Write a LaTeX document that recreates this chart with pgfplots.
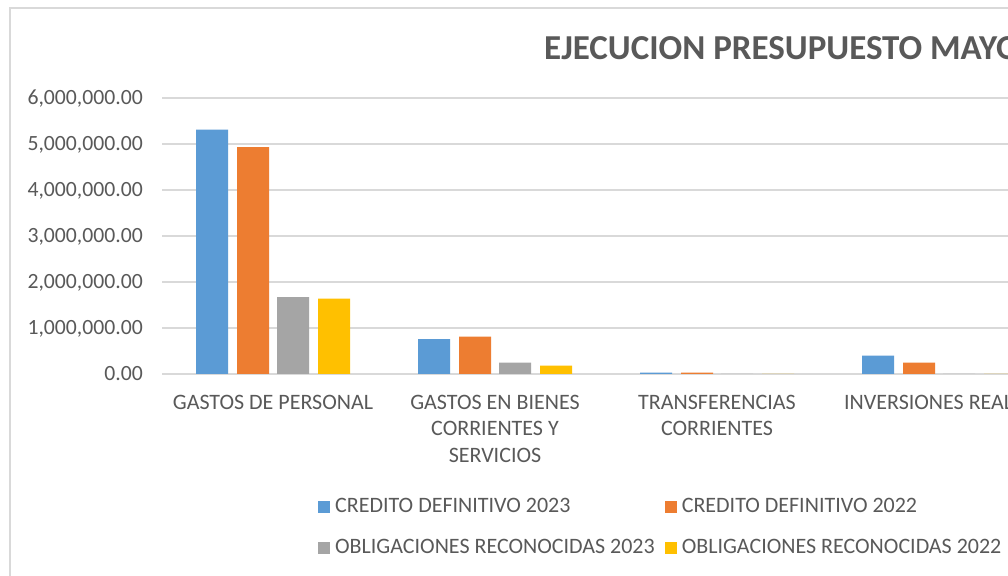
\documentclass[border=0pt]{standalone}
\usepackage{pgfplots}
\pgfplotsset{compat=1.18}
\usepackage{fontspec}
\setmainfont{Carlito}
\definecolor{cblue}{HTML}{5B9BD5}
\definecolor{corange}{HTML}{ED7D31}
\definecolor{cgray}{HTML}{A5A5A5}
\definecolor{cyellow}{HTML}{FFC000}
\definecolor{ctext}{HTML}{595959}
\definecolor{cgrid}{HTML}{D9D9D9}
\begin{document}
\begin{tikzpicture}[x=1pt,y=1pt]
\useasboundingbox (0,0) rectangle (1008,575);
\clip (0,0) rectangle (1008,575);
\fill[white] (0,0) rectangle (1008,575);
\draw[cgrid, line width=1.2pt] (10,-10) -- (10,567) -- (1100,567);
\node[anchor=base west, font=\fontsize{35}{40}\selectfont\bfseries, text=ctext, inner sep=0pt] at (544,515.5) {EJECUCION PRESUPUESTO MAYO 2023};
\begin{axis}[
  at={(162pt,201pt)}, anchor=south west, scale only axis,
  width=1110pt, height=276pt,
  xmin=-0.5, xmax=4.5, ymin=0, ymax=6000000,
  ybar, bar width=32pt,
  ytick={0,1000000,2000000,3000000,4000000,5000000,6000000},
  scaled y ticks=false,
  /pgf/number format/fixed, /pgf/number format/fixed zerofill,
  /pgf/number format/precision=2, /pgf/number format/1000 sep={,},
  /pgf/number format/assume math mode=true,
  xtick={0,1,2,3},
  xticklabels={GASTOS DE PERSONAL, {GASTOS EN BIENES\\CORRIENTES Y\\SERVICIOS}, {TRANSFERENCIAS\\CORRIENTES}, INVERSIONES REALES},
  axis line style={draw=none},
  major tick length=0pt,
  ymajorgrids, major grid style={cgrid, line width=1.3pt},
  yticklabel style={font=\fontsize{21.7}{26}\selectfont, text=ctext, anchor=base east, inner sep=0pt, xshift=-19pt, yshift=-6.9pt},
  xticklabel style={font=\fontsize{22}{26.5}\selectfont, text=ctext, align=center, anchor=north, inner sep=0pt, yshift=-21pt},
  legend columns=2,
  legend cell align=left,
  legend style={at={(axis description cs:0.1405,-0.4475)}, anchor=north west, draw=none, fill=none, inner sep=0pt,
    font=\fontsize{22}{26}\selectfont, text=ctext,
    nodes={inner sep=0pt, text height=15pt, text depth=4pt},
    column sep=5pt, row sep=22pt,
    /tikz/every even column/.append style={column sep=10pt}},
  legend image code/.code={\fill[#1, draw=none] (0pt,-6pt) rectangle (12pt,6pt);},
]
\addplot[fill=cblue, draw=none, bar shift=-61pt] coordinates {(0,5310000) (1,760000) (2,30000) (3,400000)};
\addplot[fill=corange, draw=none, bar shift=-20pt] coordinates {(0,4930000) (1,810000) (2,28000) (3,245000)};
\addplot[fill=cgray, draw=none, bar shift=20pt] coordinates {(0,1670000) (1,245000) (2,2000) (3,3000)};
\addplot[fill=cyellow, draw=none, bar shift=61pt] coordinates {(0,1640000) (1,180000) (2,2000) (3,2000)};
\legend{CREDITO DEFINITIVO 2023, CREDITO DEFINITIVO 2022, OBLIGACIONES RECONOCIDAS 2023, OBLIGACIONES RECONOCIDAS 2022}
\end{axis}
\end{tikzpicture}
\end{document}
